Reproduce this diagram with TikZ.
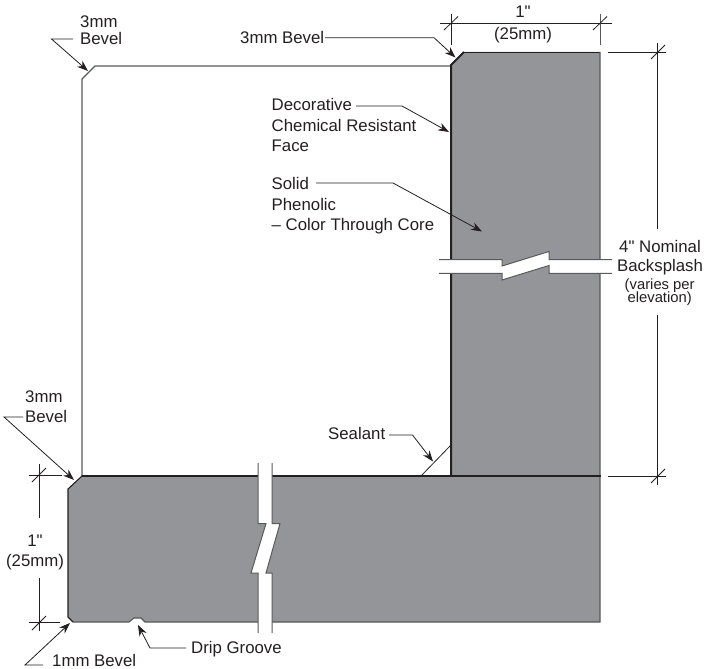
\documentclass[tikz,border=0pt]{standalone}
\usepackage{fontspec}
\newfontfamily\labf{Liberation Sans}
\usetikzlibrary{arrows.meta}
\definecolor{ink}{HTML}{231F20}
\definecolor{core}{HTML}{939598}
\definecolor{edge}{HTML}{58595B}
\tikzset{
  x=1pt,y=-1pt,
  thin line/.style={draw=ink,line width=0.8pt},
  outline/.style={draw=ink,line width=1.1pt,line join=miter},
  heavy/.style={draw=ink,line width=2pt},
  lead/.style={draw=ink,line width=0.8pt,-{Stealth[length=11pt,width=8pt]}},
  lab/.style={inner sep=0pt,font=\labf\fontsize{16.8}{20.3}\selectfont,text=ink,align=left,anchor=base west},
  tightlab/.style={lab,font=\labf\fontsize{16.8}{16.7}\selectfont},
  clab/.style={lab,align=center,anchor=base},
  slab/.style={inner sep=0pt,font=\labf\fontsize{14.8}{15}\selectfont,text=ink,align=center,anchor=base},
}
\begin{document}
\begin{tikzpicture}
\useasboundingbox (0,0) rectangle (705,669);
% white upper block
\draw[draw=edge,line width=1.1pt] (451,66) -- (95,66) -- (82,79) -- (82,476);
% panels
\fill[core] (464,52) -- (600,52) -- (600,476) -- (451,476) -- (451,65) -- cycle;
\fill[core] (82,476) -- (600,476) -- (600,622) -- (145,622) -- (141,618) -- (134,618) -- (129,622) -- (73,622) -- (68,617) -- (68,489) -- cycle;
% outlines
\draw[draw=ink,line width=0.9pt] (464,52) -- (600,52);
\draw[draw=edge,line width=1.1pt] (600,52) -- (600,622) -- (145,622) -- (141,618) -- (134,618) -- (129,622) -- (73,622);
\draw[outline] (73,622) -- (68,617) -- (68,489) -- (82,476);
\draw[heavy] (464,52) -- (451,65) -- (451,476);
\draw[heavy] (82,476) -- (601,476);
% sealant
\draw[thin line] (421,476) -- (451,445);
% breaks
\fill[white] (439,259.5) -- (502,259.5) -- (502,266) -- (549,251.5) -- (549,259.5) -- (612,259.5) -- (612,273.3) -- (549,273.3) -- (549,265.5) -- (502,280) -- (502,273.3) -- (439,273.3) -- cycle;
\draw[draw=edge,line width=1pt] (439,259.5) -- (502,259.5) -- (502,266) -- (549,251.5) -- (549,259.5) -- (612,259.5);
\draw[draw=edge,line width=1pt] (439,273.3) -- (502,273.3) -- (502,280) -- (549,265.5) -- (549,273.3) -- (612,273.3);
\fill[white] (258,463) -- (272,463) -- (272,523.5) -- (280,523.5) -- (266,573) -- (272,573) -- (272,633) -- (258,633) -- (258,573) -- (251,573) -- (266,523.5) -- (258,523.5) -- cycle;
\draw[draw=edge,line width=1pt] (258,463) -- (258,523.5) -- (266,523.5) -- (251,573) -- (258,573) -- (258,633);
\draw[draw=edge,line width=1pt] (272,463) -- (272,523.5) -- (280,523.5) -- (266,573) -- (272,573) -- (272,633);
% top dimension
\draw[thin line] (440,23.5) -- (612,23.5);
\draw[thin line] (451,14) -- (451,45);
\draw[draw=edge,line width=0.9pt] (600,14) -- (600,45);
\draw[thin line] (444,30) -- (458,16.5);
\draw[thin line] (593,30) -- (607,16.5);
\node[clab] (dimtop) at (523,18) {1"};
\node[clab] (dimtopb) at (523,39.5) {(25mm)};
% right dimension
\draw[thin line] (608,52.5) -- (665.6,52.5);
\draw[thin line] (608,476) -- (665.6,476);
\draw[thin line] (657.5,43) -- (657.5,229);
\draw[thin line] (657.5,315) -- (657.5,485);
\draw[thin line] (651,59) -- (665,45);
\draw[thin line] (651,483) -- (665,469);
\node[clab] (dimr1) at (660,252.5) {4" Nominal};
\node[clab] (dimr2) at (660,271.7) {Backsplash};
\node[slab] (dimr3) at (659.7,289) {(varies per};
\node[slab] (dimr4) at (659.7,302.5) {elevation)};
% left dimension
\draw[thin line] (39,464) -- (39,518);
\draw[thin line] (39,578) -- (39,631);
\draw[thin line] (29,475) -- (62,475);
\draw[thin line] (29,622) -- (60,622);
\draw[thin line] (32,482) -- (46,468);
\draw[thin line] (32,630) -- (46,616);
\node[clab] (diml1) at (35,546.5) {1"};
\node[clab] (diml2) at (35,566.5) {(25mm)};
% labels and leaders
\node[tightlab] (bevA) at (80,44.5) {3mm\\Bevel};
\draw[lead] (73,39) -- (51.5,39) -- (88,71);
\node[lab] (bevB) at (240,43.3) {3mm Bevel};
\draw[lead] (325,37.7) -- (434,37.7) -- (455.5,57.5);
\node[lab] (deco) at (271.5,151.5) {Decorative\\Chemical Resistant\\Face};
\draw[lead] (356,106) -- (402,106) -- (449,132);
\node[lab] (solid) at (271.5,230.5) {Solid\\Phenolic\\– Color Through Core};
\draw[lead] (316,183) -- (393,183) -- (482,231.5);
\node[lab] (seal) at (328,439.5) {Sealant};
\draw[lead] (389,435) -- (412.5,435) -- (433,461.5);
\node[lab] (bevC) at (25,422.7) {3mm\\Bevel};
\draw[lead] (23,417) -- (4,417) -- (74,480);
\node[lab] (drip) at (191,653.3) {Drip Groove};
\draw[lead] (186,648) -- (150,648) -- (138,625);
\node[lab] (bevD) at (52,666) {1mm Bevel};
\draw[lead] (43,665) -- (25,665) -- (70,623);
\end{tikzpicture}
\end{document}
